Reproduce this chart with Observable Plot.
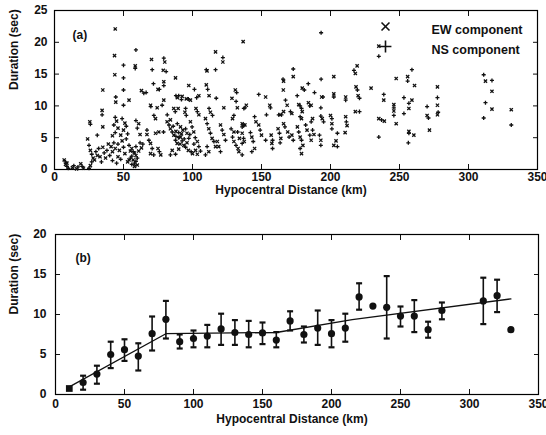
<!DOCTYPE html>
<html><head><meta charset="utf-8">
<script src="https://cdn.jsdelivr.net/npm/d3@7"></script>
<script src="https://cdn.jsdelivr.net/npm/@observablehq/plot@0.6"></script>
<style>
body{margin:0;background:#fff;}
#chart{width:546px;}
#chart svg{display:block;}
</style></head><body><div id="chart"></div>
<script>
// ---------- shared axis ticks ----------
const xTicks = [0,50,100,150,200,250,300,350];
const yTicksA = [0,5,10,15,20,25];
const yTicksB = [0,5,10,15,20];

// ---------- panel (a): individual durations [distance km, duration s] ----------
const ewPoints = [
[7,1.5],[8,0.8],[9,1.0],[13,0.3],[16,0.1],[19,0.9],[21,0.2],
[44,22.1],[43.5,17.9],[58.5,16.3],[43.7,14.9],[35,12.5],[63,12.4],[54,10.9],[44.4,10.6],[34.5,9.3],[25.6,7.5],[35,6.7],[45,7.6],[46,6.5],[42,5.3],[51,7.3],[50,6.2],[48,5.4],[61,7.2],[62,5.5],[24,4.8],
[26,3.0],[28,1.8],[26,0.6],[29,1.5],[31,2.2],[33,2.0],[35,3.5],[37,1.8],[39,4.0],[41,3.6],[42,2.8],[44,3.3],[46,2.0],[47,3.0],[49,4.5],[51,2.5],[53,1.2],[55,2.9],[57,1.5],[58,2.6],[60,0.7],[61,2.9],[63,3.4],[58,0.5],[56,3.3],[59,2.2],[54,1.5],
[70.3,17.3],[79.9,16.9],[78.8,15.6],[116.7,18.5],[122,16.9],[110.5,15.5],[87.7,14.4],[79.2,13.8],[75,12.6],[97.3,13.2],[110,13.3],[112,11.6],[131,12.5],[128.6,11.2],[69.6,10.1],[74.4,9.7],[79.2,10.9],[89,11.3],[92.5,11.5],[95.5,11.1],[98.5,10.9],[104.6,11.6],[132.5,9.7],[73.2,8.0],[86.4,9.6],[89.6,9.6],[94.5,9.0],[102.5,9.6],[104.6,8.6],[113,9.0],[122.7,9.7],[129,8.0],
[81.6,7.5],[84,6.4],[86.5,5.4],[88.9,4.1],[91.3,5.1],[93.7,3.8],[91.3,6.7],[96,5.7],[98.5,7.5],[100.9,5.9],[103.5,4.4],[102.2,3.0],[103.5,2.4],[85.3,3.0],[75.6,5.9],[73.2,5.7],[67,5.5],[69.6,4.1],[69.6,2.5],[75,3.3],[77,2.3],
[109.4,8.0],[111.8,6.4],[114.2,4.9],[116.7,3.6],[111.8,2.8],[120.3,7.0],[122.7,5.5],[119,3.6],[118,4.4],[130,5.9],[130,4.4],[133,3.3],[134,4.9],[137,7.0],[133.6,2.8],
[84,7.8],[88,6.0],[92,5.6],[96,4.2],[93,6.2],[91,4.0],[97,3.0],[100,2.5],[90,3.2],
[136.7,20.1],[235,19.4],[219.3,16.3],[218,15.1],[173,14.6],[166,13.9],[202.4,14.6],[179.5,12.8],[165.8,12.5],[153,11.4],[193.6,11.4],[202.4,11.9],[211,11.4],[218.5,13.0],[220,11.6],[229.4,12.8],[156,10.1],[168.6,10.1],[177,10.2],[184,10.5],[186,10.1],[139,10.1],[218,9.1],[235,8.0],[136,7.2],[138,7.0],[146,7.5],[163.5,8.6],[166,9.1],[172,8.8],[179,8.0],[179.5,9.1],[187,8.0],[194,8.0],[200,8.5],[201,7.2],[211,8.3],[212,6.9],[210.6,5.8],
[136,5.7],[137.5,4.4],[143,5.1],[145,3.3],[148,7.0],[150,5.4],[157,5.4],[157.5,4.1],[162,6.4],[164,4.9],[166,7.2],[169,5.9],[172,5.4],[176,6.7],[178,5.1],[180,3.8],[179,2.5],[183,6.2],[186,4.6],[188,5.5],[193,4.6],[204,4.5],[202.4,3.8],
[247.6,14.3],[255.9,14.6],[260.9,13.2],[238.6,10.9],[259,10.9],[256.8,9.6],[245.9,10.2],[245.9,9.2],[247.6,7.2],[239,7.6],[256.8,6.0],[260.4,5.4],[277.5,13.0],[277.5,10.1],[277.5,8.6],[270,8.5],[271.7,6.2],[312.3,13.9],[317,12.3],[317,9.5],[331,9.4]
];
const nsPoints = [
[8,1.2],[9,0.5],[10,0.2],[14,0.6],[17,0.4],[20,0.5],
[59,18.8],[50,16.4],[58.5,15.9],[50,14.4],[50,12.5],[64.7,12.0],[44.4,11.4],[50,10.1],[34.5,8.6],[26,7.1],[44,8.2],[43,7.0],[44,5.8],[49,8.0],[52,6.8],[53,5.6],[59,7.7],[60,6.5],[31,5.4],[25,3.8],
[27,2.4],[27,1.2],[25,0.2],[30,2.8],[32,3.3],[34,1.2],[36,2.6],[38,3.0],[40,2.2],[42,1.4],[43,4.2],[45,1.0],[46,4.0],[48,1.6],[50,3.5],[52,4.8],[54,3.8],[56,2.1],[58,1.0],[59,3.6],[60,1.8],[62,4.2],[64,4.0],[56,0.8],[57,2.8],[59,1.3],[55,1.8],
[79.2,17.5],[70.8,15.7],[80.9,15.4],[122,17.6],[110,15.7],[116.7,15.7],[71.7,13.5],[79.2,13.2],[76,12.6],[101.4,12.6],[111,12.6],[117.2,11.2],[132,12.1],[66.4,12.1],[69.8,9.9],[78,10.1],[88,11.6],[90,11.6],[92,11.0],[97,11.1],[103,11.3],[131.6,10.7],[72,8.5],[81.7,8.6],[87.5,9.1],[95,9.6],[95.5,8.5],[103.5,9.1],[112,9.6],[114.5,8.5],[130,8.5],[137.2,9.6],
[83,7.0],[85.3,5.9],[87.7,4.6],[90,5.8],[92.5,4.5],[89,7.2],[95,6.4],[97.3,4.9],[99.7,6.7],[102,5.0],[104.6,3.6],[105.8,2.9],[87.7,2.4],[84,2.3],[79,5.9],[67,6.2],[68.4,4.6],[70.8,3.3],[71.9,2.3],[76,2.8],
[110.6,7.2],[113,5.7],[115.5,4.4],[110.6,3.6],[109.4,2.3],[121.5,6.2],[123.9,4.6],[120.3,2.8],[128,6.4],[129,5.1],[131.5,3.8],[132.7,5.9],[136,4.1],[136,6.7],[136,2.3],
[86,6.8],[90,5.0],[94,4.8],[98,5.5],[88,5.2],[95,3.5],[99,2.8],[101,4.0],
[193.2,21.5],[235,17.8],[217,15.6],[173,15.8],[165.6,14.2],[193.2,14.2],[183.9,13.5],[181,12.5],[148,11.8],[188.4,12.1],[194.5,11.4],[202.4,11.4],[211,10.9],[219.5,12.5],[221,11.2],[167.4,10.9],[156.5,9.7],[175.9,11.6],[178,10.0],[185,10.0],[193,9.7],[138,9.7],[221,9.1],[153.6,8.6],[137,6.9],[145,8.3],[162.5,8.6],[164.5,8.6],[171,9.1],[178,8.3],[179,9.6],[186,7.5],[193,8.4],[195,7.5],[201,8.0],[201,6.4],[211.5,7.5],[205,5.7],[235,5.1],
[137,4.9],[142,5.8],[144,4.4],[143,2.8],[149,6.2],[153,4.6],[158,4.6],[158,3.3],[163,5.7],[163.5,4.2],[167,6.7],[170,5.1],[173,4.6],[177,5.9],[179,4.6],[178,3.3],[182,7.0],[185,5.4],[187,6.2],[192,5.4],[193,3.8],[205,3.6],
[259,15.7],[255.9,13.9],[238.6,11.8],[253.2,11.3],[256.8,10.4],[253.2,8.8],[245.9,9.7],[245.9,8.5],[237,7.8],[256.8,5.7],[256.4,4.2],[277.5,11.3],[278,9.0],[270,9.9],[271,8.1],[311,14.9],[317,14.0],[312.3,10.5],[311,8.1],[331,7.0]
];

// ---------- panel (b): binned means with error bars ----------
const binDist = [10,20,30,40,50,60,70,80,90,100,110,120,130,140,150,160,170,180,190,200,210,220,230,240,250,260,270,280,310,320,330];
const binMean = [0.75,1.5,2.55,5.0,5.6,4.8,7.6,9.4,6.6,7.0,7.3,8.2,7.75,7.5,7.7,6.8,9.2,7.5,8.3,7.6,8.3,12.2,11.05,10.9,9.8,9.8,8.1,10.5,11.7,12.35,8.1];
const binLow  = [null,0.6,1.35,3.3,4.2,3.0,5.5,7.0,5.75,5.9,5.9,6.2,6.2,5.9,6.3,5.9,8.0,6.5,6.2,5.9,6.6,10.6,null,7.0,8.5,7.8,7.1,9.4,8.8,10.3,null];
const binHigh = [null,2.35,3.6,6.6,6.9,6.4,9.75,11.7,7.5,8.0,8.7,10.1,9.3,9.2,9.0,7.8,10.4,8.5,10.5,9.3,10.1,13.9,null,14.8,11.0,11.8,9.1,11.5,14.6,14.35,null];
const fitDist = [10,80,160,215,330];
const fitDur  = [0.95,7.6,7.75,9.35,11.95];

// ---------- labels ----------
const xLabel = "Hypocentral Distance (km)";
const yLabel = "Duration (sec)";
const legendLabels = ["EW component","NS component"];

const font = "'Liberation Sans', Arial, Helvetica, sans-serif";
const style = {fontFamily: font, fontSize: "12px", fontWeight: "bold", color: "#111", background: "white", overflow: "visible"};
const capSymbol = {draw(ctx, size){ const r = Math.sqrt(size/Math.PI); ctx.moveTo(-r,0); ctx.lineTo(r,0); }};

function axes(yTicks, bottomPad, leftPad) {
  return [
    Plot.axisX(xTicks, {anchor: "bottom", tickSize: -5, tickPadding: bottomPad, label: null}),
    Plot.axisX(xTicks, {anchor: "top", tickSize: -5, tickFormat: () => "", label: null}),
    Plot.axisY(yTicks, {anchor: "left", tickSize: -5, tickPadding: leftPad, label: null}),
    Plot.axisY(yTicks, {anchor: "right", tickSize: -5, tickFormat: () => "", label: null}),
    Plot.frame({stroke: "black", strokeWidth: 1.2})
  ];
}

const plotA = Plot.plot({
  width: 546, height: 200,
  marginTop: 10, marginBottom: 31, marginLeft: 54, marginRight: 9,
  x: {domain: [0, 350]}, y: {domain: [0, 25]},
  style,
  marks: [
    ...axes(yTicksA, 8, 12),
    Plot.dot(ewPoints, {x: d => d[0], y: d => d[1], symbol: "times", r: 1.6, stroke: "#111", strokeWidth: 1.3}),
    Plot.dot(nsPoints, {x: d => d[0], y: d => d[1], symbol: "plus", r: 1.4, stroke: "#111", strokeWidth: 1.3}),
    Plot.text(["(a)"], {frameAnchor: "top-left", dx: 18, dy: 20}),
    Plot.dot([legendLabels[0]], {frameAnchor: "top-right", dx: -152, dy: 16, symbol: "times", r: 3.7, stroke: "#111", strokeWidth: 1.6}),
    Plot.dot([legendLabels[1]], {frameAnchor: "top-right", dx: -152, dy: 36, symbol: "plus", r: 3.9, stroke: "#111", strokeWidth: 1.6}),
    Plot.text([legendLabels[0]], {frameAnchor: "top-right", dx: -106, dy: 15, textAnchor: "start", fontSize: 12.5}),
    Plot.text([legendLabels[1]], {frameAnchor: "top-right", dx: -106, dy: 35, textAnchor: "start", fontSize: 12.5}),
    Plot.text([xLabel], {frameAnchor: "bottom", dx: -5, dy: 24}),
    Plot.text([yLabel], {frameAnchor: "left", dx: -40, rotate: -90})
  ]
});

const bins = binDist.map((d, i) => ({d, m: binMean[i], lo: binLow[i], hi: binHigh[i]}));
const barBins = bins.filter(b => b.lo != null);
const fit = fitDist.map((d, i) => ({d, v: fitDur[i]}));

const plotB = Plot.plot({
  width: 546, height: 235,
  marginTop: 34, marginBottom: 41, marginLeft: 55, marginRight: 8,
  x: {domain: [0, 350]}, y: {domain: [0, 20]},
  style,
  marks: [
    ...axes(yTicksB, 10, 14),
    Plot.ruleX(barBins, {x: "d", y1: "lo", y2: "hi", stroke: "#111", strokeWidth: 1.6}),
    Plot.dot(barBins, {x: "d", y: "hi", symbol: capSymbol, r: 3, fill: "none", stroke: "#111", strokeWidth: 2.2}),
    Plot.dot(barBins, {x: "d", y: "lo", symbol: capSymbol, r: 3, fill: "none", stroke: "#111", strokeWidth: 2.2}),
    Plot.line(fit, {x: "d", y: "v", stroke: "#111", strokeWidth: 1.3}),
    Plot.dot(bins.slice(0, 1), {x: "d", y: "m", symbol: "square", r: 3.8, fill: "#111"}),
    Plot.dot(bins.slice(1), {x: "d", y: "m", r: 3.6, fill: "#111"}),
    Plot.text(["(b)"], {frameAnchor: "top-left", dx: 20, dy: 19}),
    Plot.text([xLabel], {frameAnchor: "bottom", dx: -5, dy: 28}),
    Plot.text([yLabel], {frameAnchor: "left", dx: -41, rotate: -90})
  ]
});

document.getElementById("chart").append(plotA, plotB);
</script>
</body></html>
